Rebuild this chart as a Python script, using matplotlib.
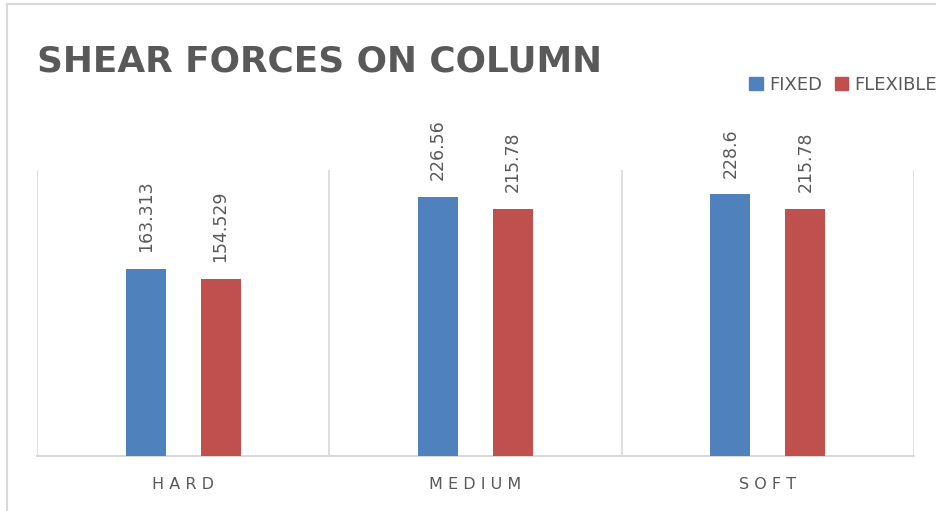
#!/usr/bin/env python3

import matplotlib
matplotlib.use("Agg")
import matplotlib.pyplot as plt
from matplotlib.patches import Patch
from matplotlib.lines import Line2D
import numpy as np

categories = ["HARD", "MEDIUM", "SOFT"]
fixed = [163.313, 226.56, 228.6]
flexible = [154.529, 215.78, 215.78]
fixed_labels = ["163.313", "226.56", "228.6"]
flexible_labels = ["154.529", "215.78", "215.78"]
series_names = ["FIXED", "FLEXIBLE"]

BLUE = "#4F81BD"
RED = "#C0504D"
TEXT = "#595959"
GRID = "#D9D9D9"

W, H = 936, 511


def spaced(s, sep=" "):
    return sep.join(list(s))


def main():
    plt.rcParams["font.family"] = ["DejaVu Sans"]
    fig = plt.figure(figsize=(W / 100, H / 100), dpi=100)
    fig.patch.set_facecolor("white")

    # chart border (only left and top visible, rest is cropped)
    fig.add_artist(Line2D([7 / W, 7 / W], [0, 1 - 4.5 / H], color=GRID, lw=1.5,
                          transform=fig.transFigure))
    fig.add_artist(Line2D([7 / W, 1], [1 - 4.5 / H, 1 - 4.5 / H], color=GRID, lw=1.5,
                          transform=fig.transFigure))

    left, right, bottom, top = 37, 914, 455.5, 170
    ax = fig.add_axes([left / W, 1 - bottom / H, (right - left) / W, (bottom - top) / H])

    x = np.arange(len(categories))
    bw = 0.137
    off = 0.128
    b1 = ax.bar(x - off, fixed, bw, color=BLUE, zorder=3)
    b2 = ax.bar(x + off, flexible, bw, color=RED, zorder=3)

    for bars, labs in ((b1, fixed_labels), (b2, flexible_labels)):
        for rect, lab in zip(bars, labs):
            ax.annotate(lab, (rect.get_x() + rect.get_width() / 2, rect.get_height()),
                        xytext=(0, 12), textcoords="offset points", rotation=90,
                        ha="center", va="bottom", color=TEXT, fontsize=12.5)

    ax.set_xlim(-0.5, len(categories) - 0.5)
    ax.set_ylim(0, 250)
    for b in np.arange(-0.5, len(categories), 1.0):
        ax.axvline(b, color=GRID, lw=1.2, zorder=1)

    ax.set_yticks([])
    ax.set_xticks(x)
    ax.set_xticklabels([spaced(c) for c in categories], color=TEXT, fontsize=11.5)
    ax.tick_params(axis="x", length=0, pad=15.5)
    for s in ("top", "left", "right"):
        ax.spines[s].set_visible(False)
    ax.spines["bottom"].set_color(GRID)
    ax.spines["bottom"].set_linewidth(1.5)

    fig.text(37 / W, 1 - 71 / H, "SHEAR FORCES ON COLUMN", fontsize=25.8,
             fontweight="bold", color=TEXT, ha="left", va="baseline")

    handles = [Patch(color=BLUE), Patch(color=RED)]
    fig.legend(handles, series_names, loc="upper left",
               bbox_to_anchor=(749 / W, 1 - 76 / H), ncol=2, frameon=False,
               handlelength=0.75, handleheight=0.75, handletextpad=0.35,
               columnspacing=0.7, borderaxespad=0, borderpad=0,
               prop={"size": 13}, labelcolor=TEXT)

    fig.savefig("out.png", dpi=100, facecolor="white")


if __name__ == "__main__":
    main()
